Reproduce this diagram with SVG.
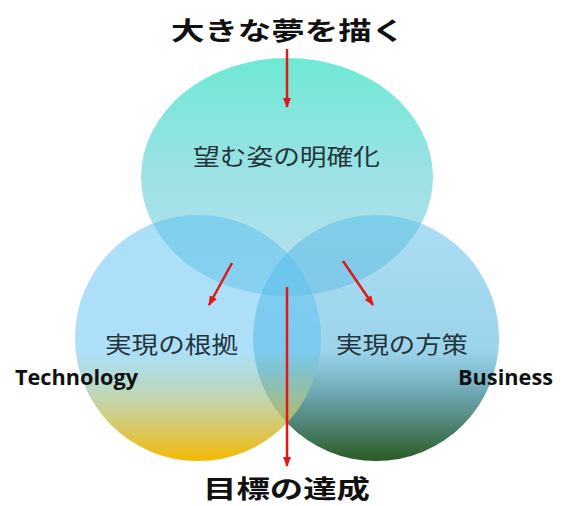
<svg xmlns="http://www.w3.org/2000/svg" width="563" height="506" viewBox="0 0 563 506">
<defs>
<linearGradient id="gTop" x1="0" y1="0" x2="0" y2="1">
<stop offset="0" stop-color="#66e8d2" stop-opacity="0.95"/>
<stop offset="0.5" stop-color="#8cdce0" stop-opacity="0.85"/>
<stop offset="1" stop-color="#a6d8ec" stop-opacity="0.8"/>
</linearGradient>
<linearGradient id="gLeft" x1="0" y1="0" x2="0" y2="1">
<stop offset="0" stop-color="#58bff0" stop-opacity="0.5"/>
<stop offset="0.55" stop-color="#5cc2f2" stop-opacity="0.5"/>
<stop offset="0.75" stop-color="#b0c890" stop-opacity="0.75"/>
<stop offset="1" stop-color="#f6b800" stop-opacity="1"/>
</linearGradient>
<linearGradient id="gRight" x1="0" y1="0" x2="0" y2="1">
<stop offset="0" stop-color="#58bde8" stop-opacity="0.5"/>
<stop offset="0.55" stop-color="#4ab0da" stop-opacity="0.55"/>
<stop offset="0.76" stop-color="#4a8a90" stop-opacity="0.85"/>
<stop offset="1" stop-color="#2a5a22" stop-opacity="1"/>
</linearGradient>
<marker id="ah" markerUnits="userSpaceOnUse" markerWidth="10" markerHeight="10" viewBox="0 0 10 10" refX="9" refY="5" orient="auto">
<path d="M0,1 L10,5 L0,9 Z" fill="#e01818"/>
</marker>
<style>
.title{font-family:"Noto Sans CJK JP","Noto Sans CJK SC",sans-serif;font-weight:bold;font-size:25px;fill:#111}
.lbl{font-family:"Noto Sans CJK JP","Noto Sans CJK SC",sans-serif;font-size:23px;fill:#26343c}
.en{font-family:"Open Sans","Liberation Sans",sans-serif;font-weight:bold;font-size:22px;fill:#111}
.arr{stroke:#e01818;stroke-width:2.5;fill:none;marker-end:url(#ah)}
</style>
</defs>
<rect width="563" height="506" fill="#ffffff"/>
<g id="node-vision">
<ellipse cx="287" cy="177" rx="146" ry="119" fill="url(#gTop)"/>
<text class="lbl" x="193" y="165" textLength="187" lengthAdjust="spacingAndGlyphs">望む姿の明確化</text>
</g>
<g id="node-business">
<circle cx="376" cy="338" r="123" fill="url(#gRight)"/>
<text class="lbl" x="336" y="353" font-size="24" textLength="132" lengthAdjust="spacingAndGlyphs">実現の方策</text>
<text class="en" x="458" y="385" font-size="21" textLength="95" lengthAdjust="spacingAndGlyphs">Business</text>
</g>
<g id="node-technology">
<circle cx="198" cy="338" r="123" fill="url(#gLeft)"/>
<text class="lbl" x="105" y="353" font-size="24" textLength="133" lengthAdjust="spacingAndGlyphs">実現の根拠</text>
<text class="en" x="15" y="385" textLength="123" lengthAdjust="spacingAndGlyphs">Technology</text>
</g>
<g id="node-dream">
<text class="title" x="171" y="40" textLength="234" lengthAdjust="spacingAndGlyphs">大きな夢を描く</text>
</g>
<g id="node-goal">
<text class="title" x="203" y="498" textLength="167" lengthAdjust="spacingAndGlyphs">目標の達成</text>
</g>
<g id="connectors">
<line class="arr" x1="287" y1="49" x2="287" y2="107"/>
<line class="arr" x1="232" y1="263" x2="209" y2="305"/>
<line class="arr" x1="343" y1="261" x2="373" y2="305"/>
<line class="arr" x1="287" y1="287" x2="287" y2="466"/>
</g>
</svg>
